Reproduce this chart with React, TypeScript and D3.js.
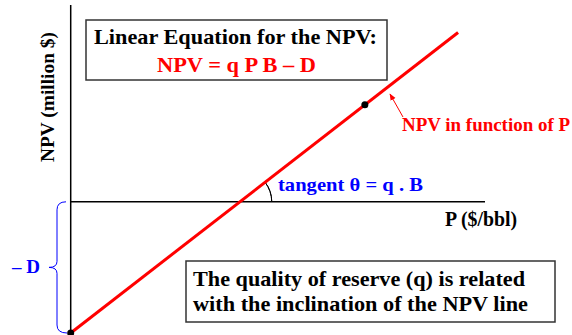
import React from 'react'
import * as d3 from 'd3'

// NPV line (million $) against oil price P ($/bbl)
const linePrice = [0, 93.5]
const lineNpv = [-100, 129]
// marked point on the line
const markPrice = [71]
const markNpv = [74]
const fixedCost = 100 // D
const breakEven = 40.8 // price where NPV = 0

const W = 572
const H = 335
const font = '"Liberation Serif", "Times New Roman", serif'
const fit = 'spacingAndGlyphs'

export default function App() {
    const x = d3.scaleLinear().domain([0, 100]).range([70.7, 485])
    const y = d3.scaleLinear().domain([-100, 150]).range([333, 5])

    const pts: [number, number][] = linePrice.map((p, i) => [p, lineNpv[i]])
    const line = d3.line<[number, number]>()
        .x(d => x(d[0]))
        .y(d => y(d[1]))

    // angle between the NPV line and the price axis
    const ang = Math.atan2(y(0) - y(lineNpv[1]), x(linePrice[1]) - x(breakEven))
    const arc = d3.arc()({
        innerRadius: 32,
        outerRadius: 32,
        startAngle: Math.PI / 2 - ang,
        endAngle: Math.PI / 2,
    } as any)

    // brace marking -D
    const bTop = y(0), bBot = y(-fixedCost), bMid = (bTop + bBot) / 2
    const brace = `M66,${bTop} Q57,${bTop} 57,${bTop + 8} L57,${bMid - 6} Q57,${bMid} 49,${bMid}`
        + ` Q57,${bMid} 57,${bMid + 6} L57,${bBot - 8} Q57,${bBot} 67,${bBot}`

    return (
        <svg width={W} height={H} style={{ position: 'absolute', left: 0, top: 0, background: '#fff' }}
            fontFamily={font} fontWeight="bold">
            <defs>
                <marker id="ah" viewBox="0 0 10 10" refX="9" refY="5" markerWidth="7" markerHeight="7" orient="auto">
                    <path d="M0,1 L10,5 L0,9 z" fill="#ff0000" />
                </marker>
            </defs>

            {/* axes */}
            <line x1={x(0)} x2={x(0)} y1={y(150)} y2={y(-100)} stroke="#000" strokeWidth={1.5} />
            <line x1={x(0)} x2={x(100)} y1={y(0)} y2={y(0)} stroke="#000" strokeWidth={1.5} />

            <text transform="translate(54,97) rotate(-90)" textAnchor="middle"
                fontSize={18} textLength={130} lengthAdjust={fit}>NPV (million $)</text>
            <text x={445} y={226} fontSize={20} textLength={72} lengthAdjust={fit}>P ($/bbl)</text>

            {/* angle arc */}
            <path d={arc || ''} transform={`translate(${x(breakEven)},${y(0)})`} fill="none" stroke="#000" strokeWidth={1} />
            <text x={278} y={191} fontSize={19} fill="#0000ff" textLength={145} lengthAdjust={fit}>tangent θ = q . B</text>

            {/* NPV line */}
            <path d={line(pts) || ''} fill="none" stroke="#ff0000" strokeWidth={3} />
            <circle cx={x(markPrice[0])} cy={y(markNpv[0])} r={3.5} fill="#000" />
            <circle cx={x(linePrice[0])} cy={y(lineNpv[0])} r={3.5} fill="#000" />

            <line x1={403} y1={117} x2={390} y2={94} stroke="#ff0000" strokeWidth={1} markerEnd="url(#ah)" />
            <text x={402} y={131} fontSize={19} fill="#ff0000" textLength={168} lengthAdjust={fit}>NPV in function of P</text>

            {/* -D brace */}
            <path d={brace} fill="none" stroke="#0000ff" strokeWidth={1} />
            <text x={12} y={273} fontSize={19} fill="#0000ff" textLength={28} lengthAdjust={fit}>– D</text>

            {/* equation box */}
            <rect x={86} y={20} width={301} height={60} fill="#fff" stroke="#333" strokeWidth={1.5} />
            <text x={94} y={44} fontSize={21} textLength={283} lengthAdjust={fit}>Linear Equation for the NPV:</text>
            <text x={157} y={72} fontSize={20} fill="#ff0000" textLength={159} lengthAdjust={fit}>NPV = q P B – D</text>

            {/* note box */}
            <rect x={186} y={261} width={369} height={61} fill="#fff" stroke="#333" strokeWidth={1.5} />
            <text x={193} y={286} fontSize={21} textLength={332} lengthAdjust={fit}>The quality of reserve (q) is related</text>
            <text x={193} y={311} fontSize={21} textLength={335} lengthAdjust={fit}>with the inclination of the NPV line</text>
        </svg>
    )
}
